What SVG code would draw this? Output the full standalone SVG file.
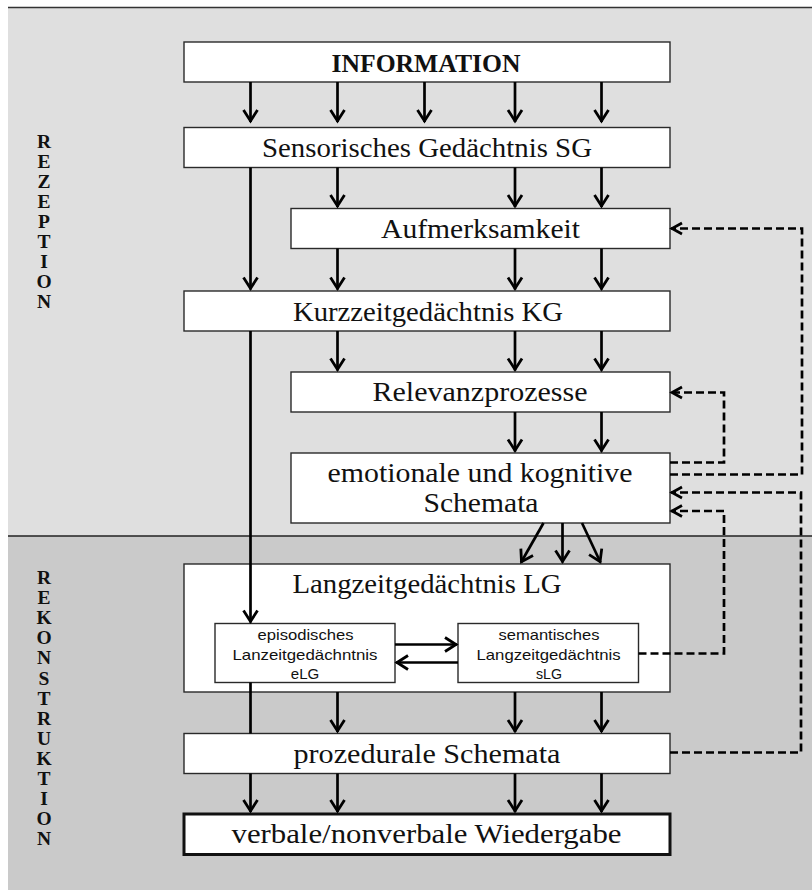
<svg xmlns="http://www.w3.org/2000/svg" width="812" height="890" viewBox="0 0 812 890">
  <style>
    .box { fill: #ffffff; stroke: #2a2a2a; stroke-width: 1.4; }
    .box-strong { fill: #ffffff; stroke: #111111; stroke-width: 3; }
    .lbl { font-family: "Liberation Serif", "Times New Roman", serif; font-size: 27px; fill: #111111; text-anchor: middle; }
    .title { font-family: "Liberation Serif", "Times New Roman", serif; font-size: 25px; font-weight: bold; fill: #111111; text-anchor: middle; }
    .small { font-family: "Liberation Sans", Arial, sans-serif; font-size: 15px; fill: #111111; text-anchor: middle; }
    .side { font-family: "Liberation Serif", "Times New Roman", serif; font-size: 19.5px; font-weight: bold; fill: #111111; text-anchor: middle; }
    .flow { fill: none; stroke: #000000; stroke-width: 2.7; }
    .flow-head { fill: none; stroke: #000000; stroke-width: 2.7; marker-end: url(#arrow); }
    .fb-head { fill: none; stroke: #000000; stroke-width: 2.7; stroke-dasharray: 8 4; marker-end: url(#arrow-small); }
  </style>
  <defs>
    <marker id="arrow" markerUnits="userSpaceOnUse" viewBox="-15 -10 17 20" markerWidth="17" markerHeight="20" refX="0" refY="0" orient="auto">
      <path d="M-12,-7 L-1,0 L-12,7" fill="none" stroke="#000000" stroke-width="2.8" stroke-linejoin="miter"/>
    </marker>
    <marker id="arrow-small" markerUnits="userSpaceOnUse" viewBox="-15 -10 17 20" markerWidth="17" markerHeight="20" refX="0" refY="0" orient="auto">
      <path d="M-11,-5.5 L-1,0 L-11,5.5" fill="none" stroke="#000000" stroke-width="2.7" stroke-linejoin="miter"/>
    </marker>
  </defs>

  <!-- background bands -->
  <rect x="8" y="7" width="804" height="529" fill="#dfdfdf"/>
  <rect x="8" y="536" width="804" height="354" fill="#cacaca"/>
  <line x1="8" y1="7.5" x2="812" y2="7.5" stroke="#333333" stroke-width="1.5"/>
  <line x1="8" y1="536" x2="812" y2="536" stroke="#222222" stroke-width="1.6"/>

  <!-- phase labels, one letter per line -->
  <g id="rezeption">
    <text class="side" y="148">
      <tspan x="44" y="148">R</tspan><tspan x="44" dy="20">E</tspan><tspan x="44" dy="20">Z</tspan><tspan x="44" dy="20">E</tspan><tspan x="44" dy="20">P</tspan><tspan x="44" dy="20">T</tspan><tspan x="44" dy="20">I</tspan><tspan x="44" dy="20">O</tspan><tspan x="44" dy="20">N</tspan>
    </text>
  </g>
  <g id="rekonstruktion">
    <text class="side" y="584">
      <tspan x="44" y="584">R</tspan><tspan x="44" dy="20.1">E</tspan><tspan x="44" dy="20.1">K</tspan><tspan x="44" dy="20.1">O</tspan><tspan x="44" dy="20.1">N</tspan><tspan x="44" dy="20.1">S</tspan><tspan x="44" dy="20.1">T</tspan><tspan x="44" dy="20.1">R</tspan><tspan x="44" dy="20.1">U</tspan><tspan x="44" dy="20.1">K</tspan><tspan x="44" dy="20.1">T</tspan><tspan x="44" dy="20.1">I</tspan><tspan x="44" dy="20.1">O</tspan><tspan x="44" dy="20.1">N</tspan>
    </text>
  </g>

  <!-- nodes -->
  <g id="information">
    <rect class="box" x="184" y="42" width="486" height="40"/>
    <text class="title" x="426" y="71.5" textLength="189" lengthAdjust="spacingAndGlyphs">INFORMATION</text>
  </g>
  <g id="sensorisches-gedaechtnis">
    <rect class="box" x="184" y="127.5" width="486" height="40"/>
    <text class="lbl" x="427" y="157" textLength="330" lengthAdjust="spacingAndGlyphs">Sensorisches Gedächtnis SG</text>
  </g>
  <g id="aufmerksamkeit">
    <rect class="box" x="291" y="208.5" width="379" height="40"/>
    <text class="lbl" x="480.5" y="238" textLength="199" lengthAdjust="spacingAndGlyphs">Aufmerksamkeit</text>
  </g>
  <g id="kurzzeitgedaechtnis">
    <rect class="box" x="184" y="291" width="486" height="40"/>
    <text class="lbl" x="428" y="321" textLength="270" lengthAdjust="spacingAndGlyphs">Kurzzeitgedächtnis KG</text>
  </g>
  <g id="relevanzprozesse">
    <rect class="box" x="291" y="372" width="379" height="40"/>
    <text class="lbl" x="480" y="401" textLength="215" lengthAdjust="spacingAndGlyphs">Relevanzprozesse</text>
  </g>
  <g id="schemata-emotional-kognitiv">
    <rect class="box" x="291" y="453" width="379" height="70"/>
    <text class="lbl" x="480" y="482" textLength="305" lengthAdjust="spacingAndGlyphs">emotionale und kognitive</text>
    <text class="lbl" x="481" y="511.5" textLength="115" lengthAdjust="spacingAndGlyphs">Schemata</text>
  </g>
  <g id="langzeitgedaechtnis">
    <rect class="box" x="184" y="564" width="486" height="128"/>
    <text class="lbl" x="427" y="593" textLength="269" lengthAdjust="spacingAndGlyphs">Langzeitgedächtnis LG</text>
  </g>
  <g id="episodisches-lg">
    <rect class="box" x="215" y="623.5" width="180" height="59"/>
    <text class="small" x="305.5" y="639.5" textLength="96" lengthAdjust="spacingAndGlyphs">episodisches</text>
    <text class="small" x="305" y="659.5" textLength="145" lengthAdjust="spacingAndGlyphs">Lanzeitgedächntnis</text>
    <text class="small" x="305" y="678.5" textLength="28.5" lengthAdjust="spacingAndGlyphs">eLG</text>
  </g>
  <g id="semantisches-lg">
    <rect class="box" x="458" y="623.5" width="180.5" height="59"/>
    <text class="small" x="549" y="639.5" textLength="101" lengthAdjust="spacingAndGlyphs">semantisches</text>
    <text class="small" x="548.5" y="659.5" textLength="144" lengthAdjust="spacingAndGlyphs">Langzeitgedächtnis</text>
    <text class="small" x="549" y="678.5" textLength="26" lengthAdjust="spacingAndGlyphs">sLG</text>
  </g>
  <g id="prozedurale-schemata">
    <rect class="box" x="184" y="733.5" width="486" height="40"/>
    <text class="lbl" x="427" y="763" textLength="267" lengthAdjust="spacingAndGlyphs">prozedurale Schemata</text>
  </g>
  <g id="wiedergabe">
    <rect class="box-strong" x="184" y="814" width="486" height="40.5"/>
    <text class="lbl" x="426.5" y="843" textLength="390" lengthAdjust="spacingAndGlyphs">verbale/nonverbale Wiedergabe</text>
  </g>

  <!-- connectors -->
  <g id="connectors">
    <!-- INFORMATION to SG -->
    <line class="flow-head" x1="250.5" y1="82" x2="250.5" y2="122"/>
    <line class="flow-head" x1="337.5" y1="82" x2="337.5" y2="122"/>
    <line class="flow-head" x1="424.5" y1="82" x2="424.5" y2="122"/>
    <line class="flow-head" x1="515" y1="82" x2="515" y2="122"/>
    <line class="flow-head" x1="601.5" y1="82" x2="601.5" y2="122"/>
    <!-- SG to Aufmerksamkeit / KG -->
    <line class="flow-head" x1="250.5" y1="167.5" x2="250.5" y2="289.5"/>
    <line class="flow-head" x1="337.5" y1="167.5" x2="337.5" y2="207"/>
    <line class="flow-head" x1="515" y1="167.5" x2="515" y2="207"/>
    <line class="flow-head" x1="601.5" y1="167.5" x2="601.5" y2="207"/>
    <!-- Aufmerksamkeit to KG -->
    <line class="flow-head" x1="337.5" y1="248.5" x2="337.5" y2="289.5"/>
    <line class="flow-head" x1="515" y1="248.5" x2="515" y2="289.5"/>
    <line class="flow-head" x1="601.5" y1="248.5" x2="601.5" y2="289.5"/>
    <!-- KG to Relevanzprozesse -->
    <line class="flow-head" x1="337.5" y1="331" x2="337.5" y2="370.5"/>
    <line class="flow-head" x1="515" y1="331" x2="515" y2="370.5"/>
    <line class="flow-head" x1="601.5" y1="331" x2="601.5" y2="370.5"/>
    <!-- Relevanzprozesse to Schemata -->
    <line class="flow-head" x1="515" y1="412" x2="515" y2="451.5"/>
    <line class="flow-head" x1="601.5" y1="412" x2="601.5" y2="451.5"/>
    <!-- KG straight down to eLG -->
    <line class="flow-head" x1="250.5" y1="331" x2="250.5" y2="622.5"/>
    <!-- Schemata fan into LG -->
    <line class="flow-head" x1="543.5" y1="523" x2="521" y2="562.5"/>
    <line class="flow-head" x1="562.5" y1="523" x2="562.5" y2="562.5"/>
    <line class="flow-head" x1="582" y1="523" x2="600.5" y2="562.5"/>
    <!-- eLG <-> sLG -->
    <line class="flow-head" x1="395" y1="644.5" x2="457" y2="644.5"/>
    <line class="flow-head" x1="458" y1="662.5" x2="396" y2="662.5"/>
    <!-- eLG to prozedurale Schemata -->
    <line class="flow" x1="250.5" y1="682.5" x2="250.5" y2="733.5"/>
    <!-- LG to prozedurale Schemata -->
    <line class="flow-head" x1="337.5" y1="692" x2="337.5" y2="732"/>
    <line class="flow-head" x1="515" y1="692" x2="515" y2="732"/>
    <line class="flow-head" x1="601.5" y1="692" x2="601.5" y2="732"/>
    <!-- prozedurale Schemata to Wiedergabe -->
    <line class="flow-head" x1="250.5" y1="773.5" x2="250.5" y2="812"/>
    <line class="flow-head" x1="337.5" y1="773.5" x2="337.5" y2="812"/>
    <line class="flow-head" x1="515" y1="773.5" x2="515" y2="812"/>
    <line class="flow-head" x1="601.5" y1="773.5" x2="601.5" y2="812"/>

    <!-- feedback loops (dashed) -->
    <path class="fb-head" d="M670,462.5 H724 V392.5 H671"/>
    <path class="fb-head" d="M670,474.5 H802 V228.5 H671"/>
    <path class="fb-head" d="M670,752.5 H801 V492.5 H671"/>
    <path class="fb-head" d="M638.5,653.5 H724 V511 H671"/>
  </g>
</svg>
